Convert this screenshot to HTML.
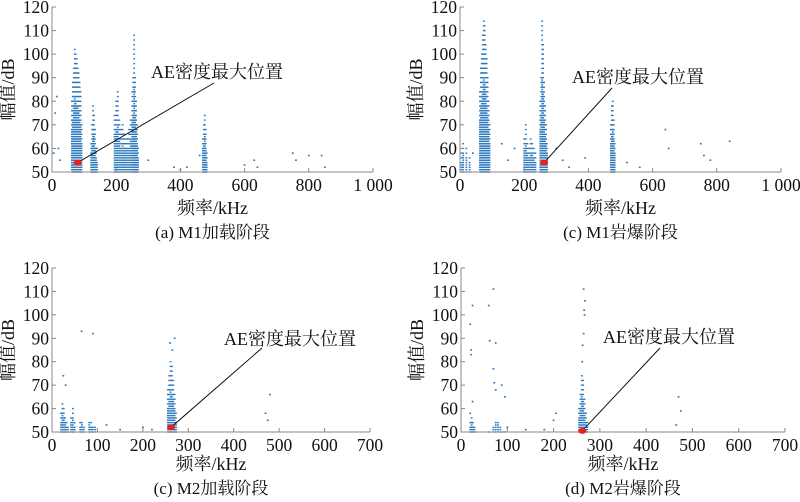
<!DOCTYPE html>
<html><head><meta charset="utf-8">
<style>
body{margin:0;background:#fff;}
svg text{font-family:"Liberation Serif","Noto Serif CJK SC",serif;fill:#111;}
</style></head>
<body>
<svg id="chart" width="800" height="497" viewBox="0 0 800 497" xmlns="http://www.w3.org/2000/svg"></svg>
<script>
// ---- data (frequency kHz, amplitude dB) ----
const aCols = [[62,80],[65,88],[68,95],[71,103],[74,100],[77,98],[80,95],[83,92],[86,88],[89,84],[92,70],[122,62],[125,70],[128,78],[131,75],[134,68],[137,60],[140,55],[195,75],[200,80],[205,84],[210,72],[215,68],[220,70],[225,66],[230,65],[235,65],[240,68],[245,72],[250,85],[253,90],[256,109],[259,90],[262,80],[265,70],[268,60],[470,65],[473,70],[476,75],[479,68],[482,58]];
const aPts = [[10,75],[15,82],[20,60],[25,55],[5,58],[140,60],[300,55],[380,52],[400,51],[420,52],[460,57],[600,53],[630,55],[640,52],[750,58],[760,55],[800,57],[840,57],[850,52]];
const aMax = [80,54];
const cCols = [[5,58],[10,62],[20,60],[30,56],[62,85],[65,95],[68,100],[71,108],[74,115],[77,112],[80,105],[83,98],[86,90],[89,80],[92,70],[200,65],[205,70],[210,62],[215,60],[220,64],[225,62],[230,60],[235,58],[250,80],[253,90],[256,115],[259,105],[262,88],[265,78],[268,70],[271,62],[470,70],[473,78],[476,80],[479,72],[482,62]];
const cPts = [[40,58],[130,62],[150,55],[170,60],[300,60],[320,55],[340,52],[390,56],[520,54],[560,52],[640,68],[650,60],[750,62],[760,57],[780,55],[840,63]];
const cMax = [262,54];
const bCols = [[20,58],[23,62],[26,60],[29,56],[32,54],[35,52],[42,56],[46,60],[50,54],[62,54],[66,55],[70,52],[82,55],[86,54],[90,53],[95,52],[255,68],[258,74],[261,80],[264,78],[267,72],[270,66],[273,58]];
const bPts = [[25,74],[30,70],[65,93],[90,92],[260,88],[270,90],[265,85],[480,66],[470,58],[200,52],[150,51],[120,53],[220,51],[475,55]];
const bMax = [262,52];
const dCols = [[20,54],[23,56],[26,54],[29,52],[32,51],[60,51],[70,52],[75,55],[80,55],[85,52],[90,51],[95,51],[255,60],[258,66],[261,75],[264,73],[267,64],[270,58],[273,54]];
const dPts = [[25,104],[20,96],[22,85],[22,83],[25,63],[20,58],[60,104],[62,89],[70,111],[75,88],[70,77],[72,71],[75,68],[88,70],[95,65],[265,111],[268,106],[266,102],[267,100],[265,92],[263,87],[262,80],[470,65],[475,59],[465,53],[205,58],[200,55],[140,51],[180,51],[100,52]];
const dMax = [262,50.5];
const yTicks = [50,60,70,80,90,100,110,120];
const xTicks1000 = [0,200,400,600,800,1000];
const xTickLabels1000 = ['0','200','400','600','800','1 000'];
const xTicks700 = [0,100,200,300,400,500,600,700];
const xTickLabels700 = ['0','100','200','300','400','500','600','700'];

const svg = document.getElementById('chart');
const NS = 'http://www.w3.org/2000/svg';
function mk(tag, attrs, parent){const e=document.createElementNS(NS,tag);for(const k in attrs)e.setAttribute(k,attrs[k]);(parent||svg).appendChild(e);return e;}

function panel(p){
  const g = mk('g',{});
  
  
  const sx = v => p.x0 + (v/p.xmax)*(p.x1-p.x0);
  const sy = v => p.y0 - (v-50)/70*(p.y0-p.y1);
  const pts = mk('g',{fill:'#2c78bd'},g);
  
  
  p.cols.forEach(c=>{
    const dense = 50 + (c[1]-50)*0.6;
    for(let d=50; d<=c[1]; d++){
      if(d>dense && (d%2)) continue;
      mk('rect',{x:sx(c[0])-0.9,y:sy(d)-0.7,width:1.8,height:1.4},pts);
    }
  });
  p.pts.forEach(c=>{
    mk('rect',{x:sx(c[0])-0.9,y:sy(c[1])-0.8,width:1.8,height:1.6},pts);
  });
  const ax = mk('path',{d:`M${p.x0},${p.y1}V${p.y0}H${p.x1}`,stroke:'#888',fill:'none','stroke-width':1},g);
  
  
  yTicks.forEach(t=>{
    mk('line',{x1:p.x0,x2:p.x0+4,y1:sy(t),y2:sy(t),stroke:'#888'},g);
    const tx = mk('text',{x:p.x0-3,y:sy(t)+6,'font-size':17.5,'text-anchor':'end'},g);
    tx.textContent = t;
    
    
  });
  p.xt.forEach((t,i)=>{
    mk('line',{x1:sx(t),x2:sx(t),y1:p.y0,y2:p.y0-4,stroke:'#888'},g);
    const tx = mk('text',{x:sx(t),y:p.y0+19,'font-size':17.5,'text-anchor':'middle'},g);
    tx.textContent = p.xl[i];
    
    
  });
  const xt = mk('text',{x:(p.x0+p.x1)/2,y:p.y0+p.xo,'font-size':18,'text-anchor':'middle'},g);
  xt.textContent='频率/kHz';
  
  
  const yt = mk('text',{x:0,y:0,'font-size':18,'text-anchor':'middle',transform:`translate(${p.x0-38},${(p.y0+p.y1)/2}) rotate(-90)`},g);
  yt.textContent='幅值/dB';
  
  
  const cap = mk('text',{x:(p.x0+p.x1)/2,y:p.y0+p.co,'font-size':17,'text-anchor':'middle'},g);
  cap.textContent=p.cap;
  
  
  const mx = sx(p.mx[0]), my = sy(p.mx[1]);
  const ln = mk('line',{x1:mx,y1:my,x2:p.ann[0],y2:p.ann[1],stroke:'#111','stroke-width':1},g);
  
  
  const el = mk('ellipse',{cx:mx,cy:my,rx:4,ry:3,fill:'#e8201c'},g);
  
  
  const at = mk('text',{x:p.ann[2],y:p.ann[3],'font-size':18,'text-anchor':'middle'},g);
  at.textContent='AE密度最大位置';
  
  
}
panel({name:'panel-a-m1-loading',x0:52,x1:373,y0:172,y1:7,xmax:1000,xo:42,co:66,xt:xTicks1000,xl:xTickLabels1000,cols:aCols,pts:aPts,mx:aMax,ann:[214,83,217,78],cap:'(a)  M1加载阶段'});
panel({name:'panel-c-m1-burst',x0:460,x1:781,y0:172,y1:7,xmax:1000,xo:42,co:66,xt:xTicks1000,xl:xTickLabels1000,cols:cCols,pts:cPts,mx:cMax,ann:[612,88,638,83],cap:'(c)  M1岩爆阶段'});
panel({name:'panel-c-m2-loading',x0:52,x1:370,y0:432,y1:268,xmax:700,xo:38,co:62,xt:xTicks700,xl:xTickLabels700,cols:bCols,pts:bPts,mx:bMax,ann:[262,348,290,345],cap:'(c)  M2加载阶段'});
panel({name:'panel-d-m2-burst',x0:461,x1:785,y0:432,y1:268,xmax:700,xo:38,co:62,xt:xTicks700,xl:xTickLabels700,cols:dCols,pts:dPts,mx:dMax,ann:[660,348,669,343],cap:'(d)  M2岩爆阶段'});
</script>
</body></html>
